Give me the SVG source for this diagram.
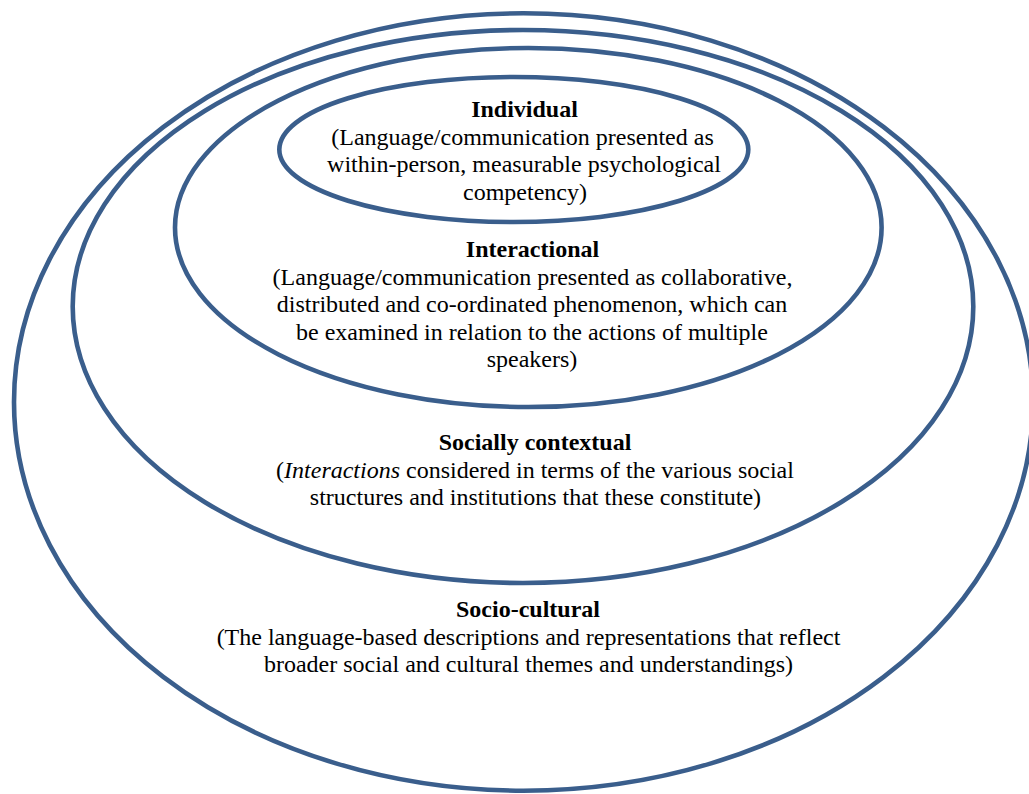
<svg xmlns="http://www.w3.org/2000/svg" width="1029" height="794" viewBox="0 0 1029 794">
<style>
.ring{fill:none;stroke:#3A5E8C;stroke-width:4.6}
.lbl{font-family:'Liberation Serif','Times New Roman','DejaVu Serif',serif;font-size:24px;fill:#000;text-anchor:middle}
.t{font-weight:bold}
.i{font-style:italic}
</style>
<rect width="1029" height="794" fill="#fff"/>
<g id="socio-cultural">
<ellipse class="ring" cx="523.5" cy="402" rx="509.5" ry="388.7"/>
<g class="lbl" font-family="Liberation Serif, serif">
<text class="t" x="528" y="617">Socio-cultural</text>
<text x="528.5" y="644.6">(The language-based descriptions and representations that reflect</text>
<text x="528.5" y="672.2">broader social and cultural themes and understandings)</text>
</g>
</g>
<g id="socially-contextual">
<ellipse class="ring" cx="523" cy="306.5" rx="450.3" ry="276.5"/>
<g class="lbl" font-family="Liberation Serif, serif">
<text class="t" x="535" y="450">Socially contextual</text>
<text x="535" y="477.6">(<tspan class="i">Interactions</tspan> considered in terms of the various social</text>
<text x="535.5" y="505.2">structures and institutions that these constitute)</text>
</g>
</g>
<g id="interactional">
<ellipse class="ring" cx="528.3" cy="227.5" rx="353.3" ry="179.5"/>
<g class="lbl" font-family="Liberation Serif, serif">
<text class="t" x="532.5" y="257">Interactional</text>
<text x="532.5" y="284.6">(Language/communication presented as collaborative,</text>
<text x="532" y="312.2">distributed and co-ordinated phenomenon, which can</text>
<text x="532" y="339.8">be examined in relation to the actions of multiple</text>
<text x="532" y="367.4">speakers)</text>
</g>
</g>
<g id="individual">
<ellipse class="ring" cx="513.8" cy="149.5" rx="234.5" ry="72.5"/>
<g class="lbl" font-family="Liberation Serif, serif">
<text class="t" x="524.5" y="117">Individual</text>
<text x="522.5" y="144.6">(Language/communication presented as</text>
<text x="524" y="172.2">within-person, measurable psychological</text>
<text x="525" y="199.8">competency)</text>
</g>
</g>
<g id="connectors"/>
</svg>
